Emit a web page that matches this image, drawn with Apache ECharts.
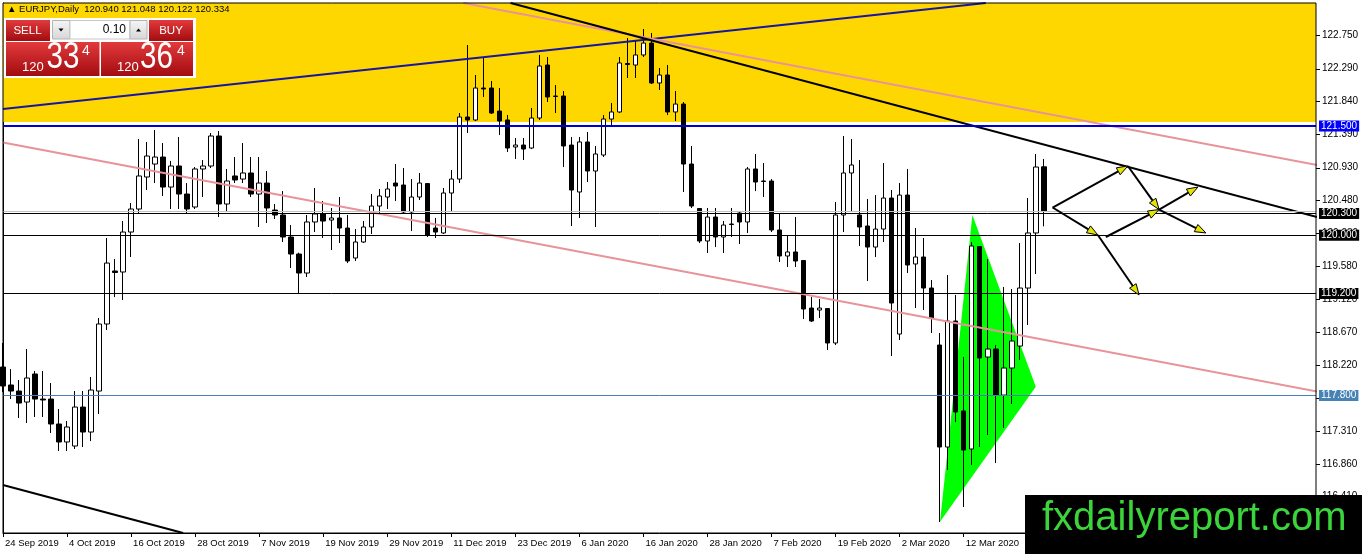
<!DOCTYPE html>
<html><head><meta charset="utf-8">
<script src="https://cdn.jsdelivr.net/npm/echarts@6/dist/echarts.min.js"></script>
<style>html,body{margin:0;padding:0;background:#fff;}#c{width:1362px;height:554px;}</style>
</head><body><div id="c"></div>
<script>
// ---- data ----
const xTickLabels = ['24 Sep 2019','4 Oct 2019','16 Oct 2019','28 Oct 2019','7 Nov 2019','19 Nov 2019','29 Nov 2019','11 Dec 2019','23 Dec 2019','6 Jan 2020','16 Jan 2020','28 Jan 2020','7 Feb 2020','19 Feb 2020','2 Mar 2020','12 Mar 2020'];
const yTickValues = [122.750,122.290,121.840,121.390,120.930,120.480,120.030,119.580,119.120,118.670,118.220,117.760,117.310,116.860,116.410];
const opens = [
118.190,117.943,117.860,117.709,118.094,117.750,117.750,117.407,117.160,117.105,
117.640,117.297,117.860,118.781,119.509,119.495,120.044,120.360,120.800,120.978,
121.074,120.662,120.951,120.566,120.388,120.910,120.951,121.363,120.429,120.814,
120.772,120.855,120.566,120.717,120.346,120.278,119.976,119.742,119.481,120.182,
120.292,120.209,120.237,120.099,119.687,119.907,120.113,120.401,120.525,120.717,
120.690,120.319,120.525,120.710,120.099,120.031,120.580,120.772,121.624,121.583,
122.022,122.022,121.706,121.583,121.212,121.239,121.198,121.610,122.338,121.912,
121.912,121.239,120.594,121.281,120.882,121.102,121.596,121.693,122.359,122.338,
122.476,122.640,122.091,122.201,121.693,121.802,120.978,120.367,119.921,120.250,
119.976,120.154,120.305,120.182,120.910,120.745,120.745,120.072,119.715,119.770,
119.653,119.000,118.973,118.993,118.520,120.278,120.855,120.278,120.127,119.838,
120.085,120.511,118.643,120.552,119.605,119.701,119.275,118.492,117.091,118.822,
117.586,117.064,119.845,118.327,118.437,117.805,118.176,118.478,119.275,120.031,
120.940];
const highs = [
118.520,118.162,118.011,118.437,118.135,118.135,117.970,117.613,117.448,117.860,
117.860,118.053,118.863,119.962,119.673,120.195,120.443,121.322,121.281,121.445,
121.267,121.020,121.349,120.717,120.937,121.033,121.404,121.432,120.910,121.074,
121.267,121.074,121.074,120.882,120.429,120.607,120.140,119.760,120.278,120.649,
120.470,120.374,120.525,120.278,120.085,120.195,120.566,120.635,120.731,120.978,
120.923,120.772,120.855,120.717,120.237,120.649,120.896,121.679,122.613,122.201,
122.434,122.118,122.022,121.651,121.335,121.335,121.748,122.476,122.448,122.063,
121.981,121.349,121.349,121.418,121.226,121.651,121.816,122.448,122.709,122.682,
122.833,122.778,122.297,122.338,121.981,121.830,121.226,120.374,120.374,120.374,
120.195,120.374,120.333,120.937,121.116,120.992,120.772,120.305,119.989,120.250,
119.660,119.151,119.124,119.000,120.456,121.363,121.322,121.033,120.498,120.552,
120.992,120.621,120.717,120.910,120.099,119.962,119.385,118.657,119.454,119.179,
118.327,119.907,119.852,119.673,118.492,119.289,119.261,119.893,120.511,121.116,
121.048];
const lows = [
117.846,117.750,117.489,117.421,117.503,117.503,117.283,117.036,117.036,117.064,
117.091,117.173,117.544,118.698,119.151,119.110,119.701,120.305,120.621,120.717,
120.539,120.360,120.360,120.305,120.360,120.525,120.923,120.250,120.319,120.717,
120.717,120.525,120.113,120.168,120.223,119.907,119.550,119.206,119.426,120.044,
119.962,119.797,119.893,119.618,119.646,119.893,120.017,120.305,120.360,120.470,
120.305,120.058,120.484,119.976,119.962,120.017,120.333,120.717,121.404,121.569,
121.899,121.665,121.377,121.143,121.047,121.033,121.184,121.583,121.830,121.679,
120.937,120.127,120.237,120.731,120.113,121.074,121.487,121.679,122.160,122.160,
122.448,122.077,121.995,121.651,121.569,120.594,120.374,119.893,119.756,119.838,
119.756,119.976,119.879,120.031,120.607,120.525,120.044,119.632,119.564,119.564,
118.849,118.808,118.863,118.423,118.492,120.044,120.319,119.852,119.371,119.701,
119.907,118.341,118.561,119.481,119.000,118.973,118.657,116.061,116.775,117.434,
116.267,116.844,117.091,117.256,116.871,117.352,117.682,118.286,118.767,119.467,
120.122];
const closes = [
117.929,117.860,117.695,118.039,117.750,117.737,117.407,117.160,117.366,117.640,
117.297,117.874,118.781,119.618,119.488,120.044,120.360,120.814,121.088,121.074,
120.662,120.951,120.566,120.360,120.910,120.951,121.363,120.429,120.745,120.759,
120.855,120.566,120.717,120.374,120.278,119.976,119.742,119.481,120.182,120.292,
120.195,120.237,120.099,119.646,119.907,120.113,120.401,120.539,120.635,120.676,
120.319,120.525,120.717,120.003,120.044,120.580,120.772,121.624,121.583,122.022,
122.009,121.679,121.569,121.198,121.239,121.184,121.610,122.324,121.899,121.906,
121.226,120.621,121.281,120.882,121.116,121.596,121.693,122.366,122.345,122.476,
122.640,122.091,122.201,121.693,121.802,120.978,120.401,119.921,120.250,119.976,
120.140,120.147,120.182,120.910,120.731,120.738,120.072,119.715,119.770,119.646,
118.987,118.822,119.000,118.520,120.278,120.855,120.965,120.113,119.838,120.085,
120.511,119.069,120.552,119.591,119.701,119.275,118.863,117.091,118.822,117.572,
117.050,119.852,118.314,118.437,117.805,118.176,118.547,119.275,120.031,120.937,
120.334];
const barSlots = 165;              // bars + empty future space to the right edge
const priceMin = 115.910, priceMax = 123.190;
const supplyZone = [121.555, 123.190];
const levelValues = [121.500, 120.300, 120.000, 119.200, 117.800];
const bidPrice = 120.334;
// trend lines: two anchor points each [barIndex, price]
const trendBlue = [[0, 121.734], [122.75, 123.190]];
const trendBlackUpper = [[63.4, 123.190], [164.125, 120.250]];
const trendPinkUpper = [[57.5, 123.190], [164.125, 120.965]];
const trendPinkLower = [[0, 121.275], [164.125, 117.853]];
const trendBlackLower = [[0, 116.569], [22.5, 115.910]];
const triangleX = [117.04, 121.08, 129.0];
const triangleY = [116.065, 120.278, 117.919];
const arrowFromX = [131.1, 140.5, 131.1, 136.75, 137.75, 144.4, 144.4];
const arrowFromY = [120.381, 120.951, 120.381, 120.003, 119.976, 120.353, 120.353];
const arrowToX = [140.5, 144.4, 136.75, 141.9, 144.4, 149.25, 150.25];
const arrowToY = [120.951, 120.353, 120.003, 119.179, 120.353, 120.662, 120.031];
const headerText = '▲ EURJPY,Daily  120.940 121.048 120.122 120.334';
const lotText = '0.10';
const sellParts = ['120', '33', '4'];
const buyParts = ['120', '36', '4'];

// ---- chart ----
const FONT = '"Liberation Sans", Arial, sans-serif';
const chart = echarts.init(document.getElementById('c'), null, {renderer: 'canvas', width: 1362, height: 554});
const categories = Array.from({length: barSlots}, (_, i) => String(i));
const candleData = opens.map((o, i) => [o, closes[i], lows[i], highs[i]]);
const tickInt = (i) => i % 8 === 0 && (i / 8) < xTickLabels.length;

function trendSeries(pts, color, width) {
  return {type: 'line', xAxisIndex: 1, yAxisIndex: 0, data: pts, showSymbol: false, symbol: 'none',
    clip: true, silent: true, z: 4, lineStyle: {color: color, width: width}};
}
function levelItem(v, lineColor, lineWidth, bg) {
  const item = {yAxis: v, lineStyle: {color: lineColor, width: lineWidth, type: 'solid'}};
  if (bg) {
    item.label = {show: true, position: 'end', distance: 3, formatter: (p) => Number(p.value).toFixed(3),
      backgroundColor: bg, color: '#fff', padding: [1, 2, 0, 2], fontSize: 10, lineHeight: 10, fontFamily: FONT};
  } else {
    item.label = {show: false};
  }
  return item;
}
const redGrad = () => new echarts.graphic.LinearGradient(0, 0, 0, 1, [{offset: 0, color: '#e23a3c'}, {offset: 1, color: '#a20c10'}]);
const grayGrad = () => new echarts.graphic.LinearGradient(0, 0, 0, 1, [{offset: 0, color: '#f6f6f6'}, {offset: 1, color: '#d6d6d6'}]);
function txt(x, y, text, size, color, align, extra) {
  return Object.assign({type: 'text', x: x, y: y, z: 101, silent: true,
    style: {text: text, fill: color, font: size + 'px ' + FONT, fontSize: size, fontFamily: FONT,
      align: align || 'left', textAlign: align || 'left', verticalAlign: 'middle', textVerticalAlign: 'middle'}}, extra || {});
}

const option = {
  animation: false,
  backgroundColor: '#ffffff',
  textStyle: {fontFamily: FONT},
  grid: {left: 3, right: 46, top: 3, bottom: 21, show: true, borderColor: '#000', borderWidth: 1,
    backgroundColor: 'transparent', z: 10, containLabel: false, outerBoundsMode: 'none'},
  xAxis: [{
    type: 'category', data: categories, boundaryGap: false,
    axisLine: {show: true, lineStyle: {color: '#000', width: 1}},
    axisTick: {show: true, length: 4, interval: tickInt, lineStyle: {color: '#000'}},
    axisLabel: {show: true, interval: tickInt, formatter: (v, i) => xTickLabels[i / 8], align: 'left',
      margin: 5, color: '#000', fontSize: 9.5, fontFamily: FONT, padding: [0, 0, 0, 2]},
    splitLine: {show: false}
  }, {
    type: 'value', min: 0, max: barSlots - 1, show: false
  }],
  yAxis: [{
    type: 'value', position: 'right', min: priceMin, max: priceMax, scale: true,
    axisLine: {show: true, lineStyle: {color: '#000'}},
    axisTick: {show: false},
    axisLabel: {customValues: yTickValues, formatter: (v) => Number(v).toFixed(3), color: '#000',
      fontSize: 10, margin: 6, fontFamily: FONT},
    splitLine: {show: false}
  }],
  series: [
    { // supply zone (yellow rectangle)
      type: 'custom', xAxisIndex: 1, yAxisIndex: 0, z: 1, silent: true,
      data: [[0, supplyZone[0], supplyZone[1]]],
      renderItem: (params, api) => {
        const cs = params.coordSys;
        const yTop = api.coord([0, api.value(2)])[1];
        const yBot = api.coord([0, api.value(1)])[1];
        return {type: 'rect', shape: {x: cs.x, y: yTop, width: cs.width, height: yBot - yTop}, style: {fill: '#ffd700'}};
      }
    },
    { // price-axis tick marks (outside, right of the axis line)
      type: 'custom', xAxisIndex: 1, yAxisIndex: 0, z: 1, silent: true, clip: false,
      data: yTickValues.map((v) => [0, v]),
      renderItem: (params, api) => {
        const cs = params.coordSys;
        const y = Math.round(api.coord([0, api.value(1)])[1]) + 0.5;
        const x0 = cs.x + cs.width;
        return {type: 'line', shape: {x1: x0, y1: y, x2: x0 + 4, y2: y}, style: {stroke: '#000', lineWidth: 1}};
      }
    },
    { // green triangle
      type: 'custom', xAxisIndex: 1, yAxisIndex: 0, z: 2, silent: true,
      data: [[triangleX[0], triangleY[0], triangleX[1], triangleY[1], triangleX[2], triangleY[2]]],
      renderItem: (params, api) => ({
        type: 'polygon',
        shape: {points: [api.coord([api.value(0), api.value(1)]), api.coord([api.value(2), api.value(3)]), api.coord([api.value(4), api.value(5)])]},
        style: {fill: '#00ff00'}
      })
    },
    {
      type: 'candlestick', xAxisIndex: 0, yAxisIndex: 0, z: 3, data: candleData, barWidth: 5, silent: true,
      itemStyle: {color: '#ffffff', color0: '#000000', borderColor: '#000000', borderColor0: '#000000', borderWidth: 1}
    },
    trendSeries(trendBlue, '#1616a2', 2),
    trendSeries(trendPinkUpper, '#e8939a', 2),
    trendSeries(trendBlackUpper, '#000000', 2),
    trendSeries(trendPinkLower, '#e8939a', 2),
    trendSeries(trendBlackLower, '#000000', 2),
    { // horizontal levels
      type: 'line', xAxisIndex: 1, yAxisIndex: 0, data: [], z: 4, silent: true,
      markLine: {symbol: ['none', 'none'], silent: true, animation: false,
        data: [
          levelItem(bidPrice, '#c0c0c0', 1, null),
          levelItem(levelValues[0], '#0000cd', 2, '#0000ff'),
          levelItem(levelValues[1], '#000000', 1, '#000000'),
          levelItem(levelValues[2], '#000000', 1, '#000000'),
          levelItem(levelValues[3], '#000000', 1, '#000000'),
          levelItem(levelValues[4], '#4682b4', 1, '#4682b4')
        ]}
    },
    { // arrows
      type: 'custom', xAxisIndex: 1, yAxisIndex: 0, z: 5, silent: true,
      data: arrowFromX.map((x, i) => [x, arrowFromY[i], arrowToX[i], arrowToY[i]]),
      renderItem: (params, api) => {
        const a = api.coord([api.value(0), api.value(1)]);
        const b = api.coord([api.value(2), api.value(3)]);
        const dx = b[0] - a[0], dy = b[1] - a[1], len = Math.hypot(dx, dy);
        const ux = dx / len, uy = dy / len, hl = 11, hw = 4;
        const bx = b[0] - ux * hl, by = b[1] - uy * hl;
        return {type: 'group', children: [
          {type: 'line', shape: {x1: a[0], y1: a[1], x2: bx, y2: by}, style: {stroke: '#000', lineWidth: 2}},
          {type: 'polygon', shape: {points: [[b[0], b[1]], [bx - uy * hw, by + ux * hw], [bx + uy * hw, by - ux * hw]]},
            style: {fill: '#e4e400', stroke: '#000', lineWidth: 1}}
        ]};
      }
    }
  ],
  graphic: [
    txt(7, 9, headerText, 9.5, '#000', 'left'),
    {type: 'rect', z: 100, silent: true, shape: {x: 4, y: 18, width: 192, height: 60}, style: {fill: '#ffffff'}},
    {type: 'rect', z: 100, silent: true, shape: {x: 6, y: 20, width: 44, height: 21}, style: {fill: redGrad()}},
    {type: 'rect', z: 100, silent: true, shape: {x: 149, y: 20, width: 44, height: 21}, style: {fill: redGrad()}},
    {type: 'rect', z: 100, silent: true, shape: {x: 6, y: 42, width: 93.5, height: 34}, style: {fill: redGrad()}},
    {type: 'rect', z: 100, silent: true, shape: {x: 101, y: 42, width: 92, height: 34}, style: {fill: redGrad()}},
    {type: 'rect', z: 100, silent: true, shape: {x: 52.5, y: 20.5, width: 17.5, height: 18.5}, style: {fill: grayGrad(), stroke: '#b4b4b4', lineWidth: 1}},
    {type: 'rect', z: 100, silent: true, shape: {x: 70, y: 20.5, width: 60, height: 18.5}, style: {fill: '#ffffff', stroke: '#c8c8c8', lineWidth: 1}},
    {type: 'rect', z: 100, silent: true, shape: {x: 130, y: 20.5, width: 17, height: 18.5}, style: {fill: grayGrad(), stroke: '#b4b4b4', lineWidth: 1}},
    {type: 'polygon', z: 101, silent: true, shape: {points: [[58.5, 28.5], [63.5, 28.5], [61, 31.5]]}, style: {fill: '#000'}},
    {type: 'polygon', z: 101, silent: true, shape: {points: [[136, 31.5], [141, 31.5], [138.5, 28.5]]}, style: {fill: '#000'}},
    txt(27.5, 30.5, 'SELL', 11.5, '#ffffff', 'center'),
    txt(171, 30.5, 'BUY', 11.5, '#ffffff', 'center'),
    txt(126, 30, lotText, 12, '#000000', 'right'),
    txt(22, 67, sellParts[0], 13, '#ffffff', 'left'),
    txt(46.5, 57.5, sellParts[1], 37, '#ffffff', 'left', {scaleX: 0.8}),
    txt(82, 51.5, sellParts[2], 14, '#ffffff', 'left'),
    txt(117, 67, buyParts[0], 13, '#ffffff', 'left'),
    txt(140, 57.5, buyParts[1], 37, '#ffffff', 'left', {scaleX: 0.8}),
    txt(177, 51.5, buyParts[2], 14, '#ffffff', 'left'),
    {type: 'rect', z: 100, silent: true, shape: {x: 1025, y: 495, width: 337, height: 59}, style: {fill: '#000000'}},
    txt(1042, 519, 'fxdailyreport.com', 40, '#3bd43b', 'left')
  ]
};
chart.setOption(option);
</script>
</body></html>
